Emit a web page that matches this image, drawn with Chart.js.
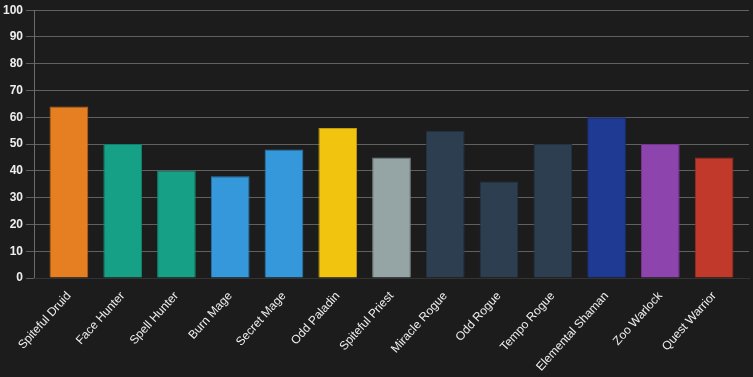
<!DOCTYPE html>
<html>
<head>
<meta charset="utf-8">
<script src="https://cdn.jsdelivr.net/npm/chart.js@4"></script>
<style>
  body { margin: 0; background: #1c1c1c; }
  #wrap { width: 753px; height: 377px; }
</style>
</head>
<body>
<div id="wrap"><canvas id="chart"></canvas></div>
<script>
const decks = ['Spiteful Druid', 'Face Hunter', 'Spell Hunter', 'Burn Mage', 'Secret Mage', 'Odd Paladin',
  'Spiteful Priest', 'Miracle Rogue', 'Odd Rogue', 'Tempo Rogue', 'Elemental Shaman', 'Zoo Warlock', 'Quest Warrior'];
const values = [64, 50, 40, 38, 48, 56, 45, 55, 36, 50, 60, 50, 45];
const barColors = ['#e67e22', '#16a085', '#16a085', '#3498db', '#3498db', '#f1c40f',
  '#95a5a6', '#2c3e50', '#2c3e50', '#2c3e50', '#1f3a93', '#8e44ad', '#c0392b'];
const borderColors = ['#b8641b', '#11806a', '#11806a', '#2a7aaf', '#2a7aaf', '#c19d0c',
  '#778485', '#233240', '#233240', '#233240', '#192e76', '#72368a', '#9a2e22'];

Chart.defaults.font.family = '"Liberation Sans", Arial, sans-serif';

// leave a little extra room at both ends of the category axis
const xInset = {
  id: 'xInset',
  afterLayout(chart) {
    const x = chart.scales.x;
    x._startPixel += 8;
    x._length -= 16;
  }
};

new Chart(document.getElementById('chart'), {
  type: 'bar',
  data: {
    labels: decks,
    datasets: [{
      data: values,
      backgroundColor: barColors,
      borderColor: borderColors,
      borderWidth: 1
    }]
  },
  options: {
    responsive: true,
    maintainAspectRatio: false,
    animation: false,
    layout: { padding: { top: 9, right: 4 } },
    scales: {
      y: {
        min: 0,
        max: 100,
        ticks: { stepSize: 10, color: '#eee', font: { size: 12, weight: 'bold' } },
        grid: { color: 'rgba(255,255,255,0.3)' },
        border: { color: 'rgba(255,255,255,0.35)' }
      },
      x: {
        ticks: { color: '#eee', font: { size: 12 }, maxRotation: 48, minRotation: 48 },
        grid: { display: false },
        border: { color: '#333' }
      }
    },
    plugins: {
      legend: { display: false },
      tooltip: { enabled: false }
    }
  },
  plugins: [xInset]
});
</script>
</body>
</html>
